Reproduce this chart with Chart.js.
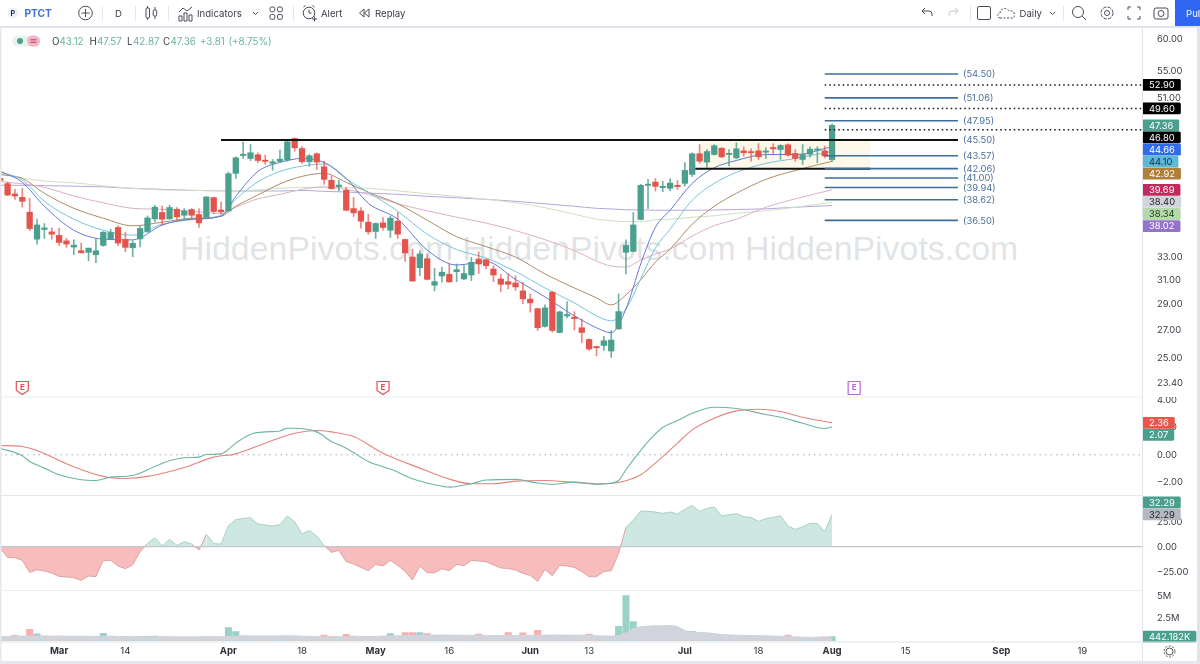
<!DOCTYPE html>
<html>
<head>
<meta charset="utf-8">
<title>PTCT</title>
<script src="https://cdn.jsdelivr.net/npm/chart.js@4/dist/chart.umd.min.js"></script>
<style>
    html, body { margin: 0; padding: 0; width: 1200px; height: 664px; overflow: hidden; background: #fff; }
    canvas { position: absolute; left: 0; }
    #overlay { position: absolute; left: 0; top: 0; }
    #watermark {
        position: absolute; left: 180px; top: 229px; white-space: pre;
        font: 33.9px "Liberation Sans", sans-serif; color: rgba(125, 130, 140, 0.24);
    }
</style>
</head>
<body>
<div id="watermark">HiddenPivots.com HiddenPivots.com HiddenPivots.com</div>
<canvas id="price" width="1197" height="369" style="top:28px"></canvas>
<canvas id="macd" width="1197" height="98" style="top:397px"></canvas>
<canvas id="osc" width="1197" height="95" style="top:495px"></canvas>
<canvas id="vol" width="1197" height="72" style="top:590px"></canvas>

<svg id="overlay" width="1200" height="664" font-family="Inter, sans-serif" font-size="9.6" fill="#3a3d46">
    <!-- frame and pane separators -->
    <rect x="0" y="26" width="1200" height="2" fill="#e0e3eb"/>
    <rect x="0" y="27" width="1.5" height="637" fill="#e6e8ee"/>
    <rect x="1197" y="27" width="3" height="637" fill="#e0e3eb"/>
    <rect x="0" y="661" width="1200" height="3" fill="#e6e8ee"/>
    <rect x="1142" y="28" width="1" height="633" fill="#e0e3eb"/>
    <rect x="0" y="396.5" width="1142" height="1" fill="#eceef2"/>
    <rect x="0" y="495" width="1142" height="1" fill="#e6e8ee"/>
    <rect x="0" y="590" width="1142" height="1" fill="#eceef2"/>
    <rect x="0" y="641.5" width="1197" height="1" fill="#e0e3eb"/>

    <!-- left toolbar -->
    <circle cx="13" cy="13" r="5.5" fill="#eef0f6"/>
    <text x="10.5" y="16" font-size="7" font-weight="700" fill="#1d2a5c">P</text>
    <text x="24.5" y="17" font-size="10.2" font-weight="700" fill="#3f6fd8">PTCT</text>
    <g fill="none" stroke="#4a4d56" stroke-width="1">
        <circle cx="85.5" cy="13" r="6.8"/><path d="M81.5 13h8M85.5 9v8"/>
        <path d="M147.5 6v14M155 7v12"/>
        <rect x="146" y="8" width="3.500" height="10" rx="1" fill="#fff"/>
        <rect x="153.200" y="10" width="3.500" height="6" rx="1" fill="#fff"/>
        <path d="M179 21v-5h3v5zM184 21v-8h3v8zM189 21v-6h3v6z"/>
        <path d="M179 12l4-4 4 3 5-4"/>
        <path d="M253 12l2.500 2.500 2.500-2.500"/>
        <rect x="270" y="7" width="4.800" height="4.800" rx="1.500"/><rect x="277.500" y="7" width="4.800" height="4.800" rx="1.500"/>
        <rect x="270" y="14.500" width="4.800" height="4.800" rx="1.500"/><rect x="277.500" y="14.500" width="4.800" height="4.800" rx="1.500"/>
        <circle cx="309" cy="13" r="5.800"/><path d="M309 9.500v3.500h2.500M303.500 7l2-1.500M314.500 7l-2-1.500M312 19h5M314.500 16.500v5"/>
        <path d="M364 9l-4.500 4 4.500 4zM369 9l-4.500 4 4.500 4z"/>
    </g>
    <g stroke="#e4e6ec"><path d="M102.500 6v15M135.500 6v15M168.500 6v15M293.500 6v15M970.500 6v15M1063.500 6v15"/></g>
    <text x="115" y="17">D</text>
    <text x="197" y="17">Indicators</text>
    <text x="321" y="17">Alert</text>
    <text x="375" y="17">Replay</text>

    <!-- right toolbar -->
    <g fill="none" stroke="#4a4d56" stroke-width="1">
        <path d="M932 16v-2a3 3 0 0 0-3-3h-6M925 8l-3 3 3 3"/>
        <path stroke="#c4c7d0" d="M949 16v-2a3 3 0 0 1 3-3h6M955 8l3 3-3 3"/>
        <rect x="977.500" y="6.500" width="13" height="13" rx="1.500"/>
        <path stroke-dasharray="2 1.500" d="M1000 18c-3 0-3-5 0-5 0-5 7-6 9-2 4-1 6 2 5 4 1 2 0 3-2 3z"/>
        <path d="M1050 12l2.500 2.500 2.500-2.500"/>
        <circle cx="1078" cy="12" r="5.500"/><path d="M1082 16l4 4"/>
        <circle cx="1107" cy="13" r="2.500"/><circle cx="1107" cy="13" r="6" stroke-dasharray="3.500 1.200"/>
        <path d="M1128 10V7h3M1137 7h3v3M1140 16v3h-3M1131 19h-3v-3"/>
        <rect x="1154" y="8" width="14" height="11" rx="2"/><circle cx="1161" cy="13.500" r="3"/>
    </g>
    <text x="1019.500" y="17">Daily</text>
    <rect x="1175" y="0" width="25" height="26" fill="#2f66f2"/>
    <text x="1186" y="17" fill="#fff">Pul</text>

    <!-- OHLC legend -->
    <rect x="12" y="35.500" width="28" height="11" rx="5.500" fill="#e9f2f0"/>
    <circle cx="20" cy="41" r="3" fill="#4f9f8e"/>
    <rect x="27" y="35.500" width="13" height="11" rx="5.500" fill="#f4b6c4"/>
    <path d="M30.500 39.800h6M30.500 42.300h6" stroke="#b03a60" stroke-width="1"/>
    <g font-size="9.800" fill="#6bb3a3">
        <text x="52" y="45" fill="#3a3d46">O</text><text x="59.500" y="45">43.12</text>
        <text x="89.500" y="45" fill="#3a3d46">H</text><text x="97" y="45">47.57</text>
        <text x="127" y="45" fill="#3a3d46">L</text><text x="133" y="45">42.87</text>
        <text x="163" y="45" fill="#3a3d46">C</text><text x="170.500" y="45">47.36</text>
        <text x="200" y="45">+3.81</text><text x="228.500" y="45">(+8.75%)</text>
    </g>

    <!-- settings gear under the axis -->
    <g fill="none" stroke="#4a4d56" stroke-width="1">
        <circle cx="1169.500" cy="651.500" r="3.500"/><circle cx="1169.500" cy="651.500" r="5.500" stroke-dasharray="2 1.500"/>
    </g>
</svg>

<script>
// --- Candles (one entry per trading day, first visible bar is mid February) ---
const opens = [40.95,40.37,39.24,38.88,37.33,34.67,35.60,35.37,35.03,34.51,33.93,33.59,33.44,33.22,34.08,34.70,35.80,34.64,33.86,34.70,35.41,36.65,37.30,36.65,37.63,37.02,37.60,37.09,36.82,38.85,37.56,37.46,41.52,43.60,43.25,43.69,43.05,42.67,42.90,43.05,45.68,44.44,42.86,43.81,42.28,40.73,40.04,39.63,37.70,37.46,36.32,35.41,36.25,35.53,36.42,34.64,33.01,32.06,32.86,30.56,31.35,31.49,31.72,31.09,31.43,32.83,32.77,31.95,31.09,30.86,30.75,30.09,29.42,28.66,27.30,29.98,26.85,28.10,28.00,27.20,26.34,25.82,25.91,25.52,27.12,33.44,33.53,36.59,40.18,40.54,39.93,39.85,40.18,40.40,41.40,43.81,42.82,43.72,44.48,43.72,43.33,44.16,44.05,44.16,44.00,44.57,44.32,44.90,43.84,43.13,43.76,44.24,44.16,43.12];
const highs = [41.06,40.51,39.74,39.85,38.78,36.62,36.19,35.76,35.73,34.74,34.60,34.30,33.83,34.67,35.40,35.63,35.96,35.34,34.51,35.96,36.95,38.05,37.97,38.05,37.81,37.70,37.70,37.70,38.95,38.90,38.39,41.66,43.45,45.22,44.93,43.93,43.64,43.13,44.24,45.46,45.76,44.69,43.72,43.90,42.93,41.21,40.76,39.96,38.85,37.81,37.12,36.25,36.79,36.95,37.30,34.67,33.74,33.59,33.29,32.01,32.10,32.39,32.39,32.24,32.98,33.49,32.85,32.24,31.49,31.52,31.37,30.81,29.84,28.70,28.96,30.06,28.46,29.22,28.43,27.87,26.39,25.86,26.56,27.00,29.84,34.60,37.30,40.30,40.84,40.95,40.62,40.92,40.73,42.75,43.93,44.93,44.32,44.93,44.57,44.32,45.14,44.65,44.41,45.06,44.53,45.02,44.93,45.02,44.32,44.93,44.65,44.65,44.73,47.57];
const lows = [40.62,39.04,38.67,37.84,35.47,34.21,34.74,34.67,34.09,33.90,33.22,33.38,32.68,32.50,34.00,34.67,34.05,33.49,33.04,33.95,35.31,36.35,36.03,36.62,36.45,36.52,36.62,35.80,36.69,37.20,37.12,37.40,40.95,43.25,43.01,42.75,42.55,41.89,42.82,42.93,44.12,42.67,42.32,41.97,40.29,39.74,39.56,37.46,36.89,35.73,35.15,34.74,35.53,34.83,34.74,32.63,30.86,31.37,31.01,30.09,30.81,30.81,30.86,31.03,30.95,31.55,31.95,30.86,30.03,30.25,30.14,29.06,28.39,27.00,27.25,26.88,26.83,27.95,27.03,26.11,25.56,25.18,25.56,25.08,27.07,31.52,33.49,36.55,37.70,39.56,39.49,39.56,39.74,40.10,41.16,42.67,42.17,43.64,43.33,42.38,43.21,43.53,42.93,43.13,43.25,43.84,43.13,43.53,42.93,42.55,43.41,42.75,43.33,42.87];
const closes = [40.73,39.13,39.02,38.46,35.70,36.05,35.76,35.15,34.36,34.21,34.11,33.40,33.83,33.59,35.34,35.31,34.30,33.90,34.27,35.70,36.75,37.84,36.62,37.81,36.85,37.46,37.02,36.25,38.92,37.40,37.36,41.48,43.33,43.72,43.93,43.01,42.90,42.86,43.17,45.27,44.53,42.86,43.57,42.82,40.84,39.82,40.21,37.53,37.26,36.42,35.37,36.19,35.80,36.72,35.15,33.38,30.92,33.29,31.06,30.86,31.67,30.84,31.89,31.55,32.54,32.39,32.24,31.43,30.64,30.64,30.42,29.44,29.12,27.20,28.72,27.00,28.41,28.20,27.89,26.85,25.66,25.75,26.25,26.30,28.43,34.08,36.05,40.18,40.29,40.07,40.07,40.43,40.04,41.86,43.81,42.93,44.08,44.78,43.45,43.81,44.41,43.93,43.93,43.45,44.12,44.41,44.81,43.64,43.25,43.72,44.36,44.32,43.55,47.36];

// --- Moving averages, read at these bars ---
const maBars = [0,3,6,10,14,18,22,26,30,32,35,38,41,44,47,50,54,58,62,66,70,74,78,81,83,85,87,89,91,94,97,100,104,108,113];
const maBlue = [41.78,40.51,37.94,35.53,34.67,34.60,36.03,36.62,36.92,38.99,41.74,42.78,43.25,42.78,40.95,38.25,36.62,33.65,32.30,32.61,31.05,29.60,28.10,27.20,26.83,28.64,32.39,35.82,37.53,40.40,42.17,43.01,43.72,43.72,44.66];
const maCyan = [41.66,40.76,38.46,36.62,35.53,35.05,36.13,36.57,37.02,38.67,40.56,41.74,42.35,42.60,40.90,39.42,37.43,35.15,33.70,32.92,31.73,30.33,29.12,28.10,27.72,28.64,31.09,33.83,35.63,38.57,40.40,41.63,42.67,43.25,44.10];
const maTan = [41.40,40.95,39.31,37.73,36.72,35.96,36.32,36.72,36.92,37.94,39.13,40.34,41.18,41.52,40.51,39.42,38.20,36.52,34.91,33.97,33.01,31.52,30.33,29.52,28.96,29.76,31.01,32.56,33.74,36.13,37.94,39.31,40.84,41.85,42.92];
const maPink = [40.62,40.34,39.96,39.02,38.30,37.73,37.63,37.43,37.17,37.84,38.72,39.20,39.74,40.01,39.74,39.20,38.20,37.48,36.82,36.23,35.49,34.62,33.60,32.65,32.21,32.13,32.74,33.29,33.74,34.96,35.98,36.62,37.84,38.72,39.69];
const maSage = [41.40,41.01,40.64,40.46,40.13,39.85,39.67,39.63,39.58,39.58,39.69,39.85,39.96,39.96,39.90,39.85,39.58,39.26,38.99,38.67,38.31,37.79,37.12,36.62,36.47,36.37,36.37,36.57,36.62,36.82,36.97,37.22,37.48,37.84,38.34];
const maLilac = [40.18,40.18,40.15,40.09,40.01,39.85,39.74,39.63,39.58,39.56,39.56,39.56,39.63,39.52,39.45,39.34,39.20,38.99,38.83,38.67,38.46,38.20,37.94,37.73,37.66,37.58,37.56,37.53,37.53,37.53,37.55,37.60,37.68,37.84,38.02];

// --- Drawn levels ---
const targets = [54.50,51.06,47.95,45.50,43.57,42.06,41.00,39.94,38.62,36.50];
const dottedLevels = [52.90,49.60,46.80];
const rangeTop = 45.50;
const rangeBottom = 42.06;

// --- MACD ---
const macdBars = [0,3,4,6,8,11,13,15,18,21,23,25,27,28,30,32,34,36,38,39,40,43,45,47,50,52,53,56,59,61,64,66,70,73,75,78,81,83,84,85,86,88,90,92,94,97,100,104,106,109,112,113];
const macdLine = [0.49,-0.07,-0.49,-0.98,-1.47,-1.84,-1.89,-1.64,-1.52,-0.86,-0.44,-0.22,-0.17,0.02,0.07,0.86,1.52,1.69,1.76,1.96,1.96,1.69,0.98,0.49,-0.49,-0.88,-1.05,-1.76,-2.20,-2.38,-2.13,-1.86,-1.81,-2.08,-2.18,-2.01,-2.18,-2.08,-1.89,-1.10,-0.37,0.98,2.01,2.52,3.06,3.50,3.41,2.97,2.77,2.33,1.94,2.07];
const signalBars = [0,3,5,9,14,17,20,25,29,32,36,40,43,45,48,52,57,61,64,67,70,74,78,81,83,85,87,89,92,94,97,100,103,106,109,113];
const signalLine = [0.69,0.61,0.32,-0.66,-1.59,-1.74,-1.59,-0.93,-0.17,0.07,0.86,1.59,1.79,1.69,1.35,0.12,-0.98,-1.79,-2.13,-2.13,-1.94,-1.89,-2.03,-2.13,-2.11,-1.91,-1.47,-0.61,0.86,1.84,2.70,3.24,3.36,3.19,2.77,2.36];

// --- Oscillator ---
const oscValues = [-1.7,-10.7,-11,-13.7,-25.7,-23,-24.3,-26.3,-29.7,-30.3,-31,-33.7,-29.3,-30,-13.7,-13.7,-19.3,-22,-18,-5,3.3,9,0.7,7.3,1.3,5,2.7,-3.3,12.3,3,2.7,21,27,28.3,29,22.7,21.7,20.7,22,30.7,25,12.7,16.3,10.7,1,-5.7,-3.7,-15,-17.3,-20.7,-24,-17.7,-19.3,-13.7,-18.7,-24.7,-33.3,-19.3,-26,-26,-22,-24,-17.7,-19,-13.7,-14.3,-15,-18.3,-21.3,-21.7,-23.3,-26.7,-28.7,-34.7,-22.7,-29,-18.7,-19.3,-20.7,-25,-30,-30,-24.7,-24,-6.7,19.3,26.7,35.7,35.3,34.7,33.3,34.7,32.7,37.3,41.3,35.3,38.3,39.7,30.7,32,33,30,29.3,25.3,28,29.3,31,20.7,17.3,20,23.3,23.3,15,32.29];

// --- Volume, in millions ---
const volumes = [0.42,0.45,0.6,0.5,1.27,0.75,0.5,0.45,0.5,0.45,0.45,0.42,0.4,0.42,0.82,0.5,0.48,0.45,0.42,0.45,0.48,0.5,0.42,0.4,0.4,0.38,0.38,0.4,0.45,0.42,0.4,1.46,1.01,0.55,0.5,0.5,0.48,0.5,0.52,0.55,0.5,0.45,0.42,0.4,0.63,0.45,0.42,0.71,0.5,0.45,0.45,0.48,0.5,0.78,0.5,0.9,0.9,0.9,0.78,0.6,0.6,0.6,0.55,0.55,0.5,0.72,0.5,0.45,0.5,0.9,0.55,0.86,0.6,1.16,0.6,0.55,0.55,0.5,0.55,0.6,0.72,0.5,0.5,0.5,1.61,5.05,2.13,1.0,0.9,0.8,0.8,0.7,0.7,0.8,1.05,0.9,0.7,0.6,0.55,0.5,0.5,0.45,0.45,0.45,0.4,0.4,0.45,0.62,0.4,0.38,0.38,0.4,0.42,0.442];
const volMaBars = [0,5,10,15,20,25,30,32,35,40,45,50,55,60,65,70,75,80,83,84,85,86,87,89,91,92,93,94,96,98,100,104,108,113];
const volMa = [0.5,0.58,0.56,0.52,0.5,0.48,0.48,0.55,0.58,0.58,0.45,0.5,0.62,0.68,0.64,0.62,0.68,0.66,0.52,0.63,0.9,1.38,1.65,1.72,1.76,1.64,1.2,1.0,0.93,0.75,0.67,0.6,0.45,0.34];

// --- Axes ---
const xTickBars = [8,17,31,41,51,61,72,80,93,103,113,123,136,147];
const xTickLabels = ['Mar','14','Apr','18','May','16','Jun','13','Jul','18','Aug','15','Sep','19'];
const monthLabels = ['Mar','Apr','May','Jun','Jul','Aug','Sep'];
const priceTicks = [60,55,51,33,31,29,27,25,23.4];
const macdTicks = [4,2,0,-2];
const oscTicks = [25,0,-25];
const volTicks = [5,2.5];
const earnings = [{bar: 3, color: '#e0525c'}, {bar: 52, color: '#e0525c'}, {bar: 116, color: '#b66ae0', upcoming: true}];

// Colours
const UP = '#4b9f8e';
const DOWN = '#e2544c';
const AXIS_FONT = {family: 'Inter, sans-serif', size: 9.4};

function points(xs, ys) {
    return xs.map((x, i) => ({x: x, y: ys[i]}));
}

function maLine(values, color, order) {
    return {
        type: 'line', data: points(maBars, values), borderColor: color, borderWidth: 1,
        pointRadius: 0, cubicInterpolationMode: 'monotone', order: order
    };
}

function levelLine(value, from, to, color, width, order, dash) {
    return {
        type: 'line', data: [{x: from, y: value}, {x: to, y: value}], borderColor: color,
        borderWidth: width, borderDash: dash || [], pointRadius: 0, order: order
    };
}

// Scales ask the layout for room around their labels, the panes have to butt together
function noPadding(s) {
    s.paddingTop = s.paddingBottom = s.paddingLeft = s.paddingRight = 0;
}

function yAxis(ticks, min, max, format, extra) {
    return Object.assign({
        position: 'right', min: min, max: max,
        grid: {display: false}, border: {display: false},
        afterFit: s => { s.width = 55; noPadding(s); },
        afterBuildTicks: s => { s.ticks = ticks.map(v => ({value: v})); },
        ticks: {autoSkip: false, padding: 7, color: '#3a3d46', font: AXIS_FONT, callback: format}
    }, extra || {});
}

const baseX = {type: 'linear', min: -0.03, max: 155.1, display: false, offset: false};

function baseOptions(x, y) {
    return {
        responsive: false, animation: false, events: [],
        layout: {padding: 0, autoPadding: false},
        plugins: {legend: {display: false}, tooltip: {enabled: false}},
        scales: {x: x, y: y}
    };
}

// Value tags on the right axis. Tags that would overlap get pushed along by dir
function tagsPlugin(tags, dir) {
    return {
        id: 'tags',
        afterDraw(chart) {
            const ctx = chart.ctx;
            const x = chart.chartArea.right;
            let prev = null;
            ctx.save();
            ctx.font = '9.4px Inter, sans-serif';
            ctx.textBaseline = 'middle';
            tags.forEach(tag => {
                let y = chart.scales.y.getPixelForValue(tag.value);
                if (prev !== null && dir * (y - prev) < 12.1) y = prev + dir * 12.1;
                prev = y;
                const w = ctx.measureText(tag.text).width + 13;
                ctx.fillStyle = tag.color;
                ctx.beginPath();
                ctx.roundRect(x, y - 5.9, w, 11.8, 1.5);
                ctx.fill();
                ctx.fillStyle = tag.ink || '#fff';
                ctx.fillText(tag.text, x + 7, y + 0.5);
            });
            ctx.restore();
        }
    };
}

// Level captions and the earnings markers on the price pane
const pricePaneText = {
    id: 'pricePaneText',
    afterDatasetsDraw(chart) {
        const ctx = chart.ctx;
        const sx = chart.scales.x;
        const sy = chart.scales.y;
        ctx.save();
        ctx.font = '9.4px Inter, sans-serif';
        ctx.textBaseline = 'middle';
        ctx.fillStyle = '#4c6f9c';
        targets.forEach(v => {
            ctx.fillText('(' + v.toFixed(2) + ')', sx.getPixelForValue(130.1) + 5, sy.getPixelForValue(v) + 0.5);
        });
        earnings.forEach(e => {
            const cx = sx.getPixelForValue(e.bar);
            const top = 353.5;
            ctx.strokeStyle = e.color;
            ctx.lineWidth = 1.2;
            ctx.beginPath();
            if (e.upcoming) {
                ctx.rect(cx - 6, top, 12, 13);
            } else {
                ctx.moveTo(cx - 6, top);
                ctx.lineTo(cx + 6, top);
                ctx.lineTo(cx + 6, top + 9);
                ctx.lineTo(cx, top + 13);
                ctx.lineTo(cx - 6, top + 9);
                ctx.closePath();
            }
            ctx.stroke();
            ctx.fillStyle = e.color;
            ctx.font = '700 8px Inter, sans-serif';
            ctx.textAlign = 'center';
            ctx.fillText('E', cx, top + 6.5);
        });
        ctx.restore();
    }
};

const bars = opens.map((_, i) => i);
const candleColor = bars.map(i => closes[i] >= opens[i] ? UP : DOWN);
const wickColor = bars.map(i => closes[i] >= opens[i] ? 'rgba(75,159,142,0.8)' : 'rgba(226,84,76,0.7)');

// --- Price pane ---
const priceSets = [
    {
        type: 'line', data: [{x: 94.9, y: rangeTop}, {x: 118.2, y: rangeTop}], borderWidth: 0, pointRadius: 0,
        fill: {value: rangeBottom}, backgroundColor: '#fdf8e9', order: 12
    },
    maLine(maLilac, '#b3a8dc', 11),
    maLine(maSage, '#cfe0c4', 10),
    maLine(maPink, '#dcb0c4', 9),
    maLine(maTan, '#ae8c66', 8),
    maLine(maCyan, '#76c6da', 7),
    maLine(maBlue, '#6479d8', 6),
    levelLine(rangeBottom, 94.4, 118.2, '#111', 2, 5.5),
    {
        type: 'bar', data: bars.map(i => ({x: i, y: [lows[i], highs[i]]})), backgroundColor: wickColor,
        barThickness: 1, grouped: false, order: 5
    },
    {
        type: 'bar', data: bars.map(i => ({x: i, y: [opens[i], closes[i]]})), backgroundColor: candleColor,
        barThickness: 5.6, minBarLength: 1.2, grouped: false, order: 4
    }
];
targets.forEach(v => priceSets.push(levelLine(v, 112, 130.1, '#3f6e9c', 1.6, 3)));
priceSets.push(levelLine(rangeTop, 30, 130.1, '#111', 2, 2));
dottedLevels.forEach(v => priceSets.push(levelLine(v, 112, 155.1, '#111', 1.5, 1, [1.5, 3])));

new Chart(document.getElementById('price'), {
    type: 'bar',
    data: {datasets: priceSets},
    options: baseOptions(baseX, yAxis(priceTicks, 22.5, 61.83, v => v.toFixed(2), {type: 'logarithmic', bounds: 'data'})),
    plugins: [pricePaneText, tagsPlugin([
        {value: 52.90, text: '52.90', color: '#000'},
        {value: 49.60, text: '49.60', color: '#000'},
        {value: 47.36, text: '47.36', color: UP},
        {value: 46.80, text: '46.80', color: '#000'},
        {value: 44.66, text: '44.66', color: '#2f6bea'},
        {value: 44.10, text: '44.10', color: '#5cbad8', ink: '#10303a'},
        {value: 42.92, text: '42.92', color: '#b07f3a'},
        {value: 39.69, text: '39.69', color: '#c02a5e'},
        {value: 38.40, text: '38.40', color: '#d1d4dc', ink: '#222'},
        {value: 38.34, text: '38.34', color: '#b4d9aa', ink: '#1c3a1c'},
        {value: 38.02, text: '38.02', color: '#9474cb'}
    ], 1)]
});

// --- MACD pane ---
new Chart(document.getElementById('macd'), {
    type: 'line',
    data: {datasets: [
        levelLine(0, -0.03, 155.1, '#a9adb6', 1, 3, [1.5, 4]),
        {data: points(signalBars, signalLine), borderColor: '#e8837c', borderWidth: 1.1, pointRadius: 0, cubicInterpolationMode: 'monotone', order: 2},
        {data: points(macdBars, macdLine), borderColor: '#6db5a6', borderWidth: 1.1, pointRadius: 0, cubicInterpolationMode: 'monotone', order: 1}
    ]},
    options: baseOptions(baseX, yAxis(macdTicks, -2.96, 4.26, v => (v < 0 ? '\u2212' : '') + Math.abs(v).toFixed(2))),
    plugins: [tagsPlugin([
        {value: 2.36, text: '2.36', color: '#e8574a'},
        {value: 2.07, text: '2.07', color: UP}
    ], 1)]
});

// --- Oscillator pane ---
new Chart(document.getElementById('osc'), {
    type: 'line',
    data: {datasets: [
        levelLine(0, -0.03, 155.1, '#c3c6cf', 1.3, 1),
        {
            data: points(bars, oscValues), borderWidth: 1, pointRadius: 0, order: 2,
            fill: {target: {value: 0}, above: '#cde8e1', below: '#f7bcbc'},
            segment: {borderColor: c => (c.p0.parsed.y >= 0 && c.p1.parsed.y >= 0) ? '#a9cfc6' : '#dfa3a3'}
        }
    ]},
    options: baseOptions(baseX, yAxis(oscTicks, -43.3, 51.7, v => (v < 0 ? '\u2212' : '') + Math.abs(v).toFixed(2))),
    plugins: [tagsPlugin([
        {value: 32.29, text: '32.29', color: '#b5b8c2', ink: '#222'},
        {value: 32.29, text: '32.29', color: UP}
    ], -1)]
});

// --- Volume pane, carries the date axis ---
const volX = Object.assign({}, baseX, {
    display: true,
    grid: {display: false, drawTicks: false}, border: {display: false},
    afterFit: s => { s.height = 20.3; noPadding(s); },
    afterBuildTicks: s => { s.ticks = xTickBars.map(v => ({value: v})); },
    ticks: {
        autoSkip: false, maxRotation: 0, padding: 4, color: '#2f3138',
        font: ctx => ({
            family: 'Inter, sans-serif', size: 9.6,
            weight: ctx.tick && monthLabels.includes(xTickLabels[xTickBars.indexOf(ctx.tick.value)]) ? '700' : '400'
        }),
        callback: v => xTickLabels[xTickBars.indexOf(v)]
    }
});

new Chart(document.getElementById('vol'), {
    type: 'bar',
    data: {datasets: [
        {
            type: 'line', data: points(volMaBars, volMa), borderWidth: 0, pointRadius: 0,
            fill: {value: 0}, backgroundColor: '#d1d4dc', order: 1
        },
        {
            type: 'bar', data: bars.map(i => ({x: i, y: volumes[i]})),
            backgroundColor: bars.map(i => closes[i] >= opens[i] ? '#9bd2c8' : '#f6b1ac'),
            barThickness: 6.4, grouped: false, order: 2
        }
    ]},
    options: baseOptions(volX, yAxis(volTicks, -0.12, 5.67, v => v + 'M')),
    plugins: [tagsPlugin([{value: 0.442, text: '442.182K', color: UP}], 1)]
});
</script>
</body>
</html>
